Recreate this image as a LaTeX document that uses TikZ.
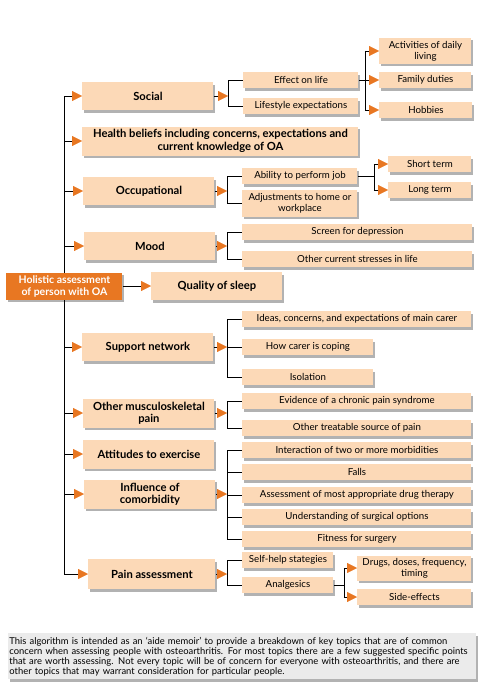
\documentclass[tikz,border=0pt]{standalone}
\usepackage{fontspec}
\setmainfont{Lato}
\usepackage{xcolor}
\usetikzlibrary{arrows.meta,shadows,backgrounds}

\begin{document}
\begin{tikzpicture}[x=1pt,y=-1pt,
  shade/.style={drop shadow={shadow xshift=2pt,shadow yshift=-2.5pt,opacity=.3,fill=black}},
  rootbox/.style={shade,fill=oaorange,text=white,font=\fontsize{10.5}{12}\selectfont\bfseries,align=center,anchor=west,minimum width=116,minimum height=27,inner sep=1pt},
  topic/.style={shade,fill=peach,font=\fontsize{11.2}{12.4}\selectfont\bfseries,align=center,anchor=west,minimum width=131,minimum height=28,inner sep=1pt},
  point/.style={shade,fill=peach,font=\fontsize{9.7}{11}\selectfont,align=center,anchor=west,minimum height=16,inner sep=1pt},
  arr/.style={-{Triangle[length=10pt,width=10pt,color=oaorange]}},
  line width=0.9pt]
\definecolor{oaorange}{HTML}{E87722}
\definecolor{peach}{HTML}{FCD9B7}
\definecolor{notegray}{HTML}{EBEBEB}
\useasboundingbox (0,0) rectangle (480,685);

\node[rootbox] (root) at (6,286) {Holistic assessment\\of person with OA};
\node[topic] (social) at (82,96) {Social};
\node[topic,minimum width=276,minimum height=29] (beliefs) at (82,141) {Health beliefs including concerns, expectations and\\current knowledge of OA};
\node[topic] (occup) at (83,191) {Occupational};
\node[topic] (mood) at (84,246) {Mood};
\node[topic] (sleep) at (151,286) {Quality of sleep};
\node[topic] (support) at (82,347) {Support network};
\node[topic,minimum height=29] (msk) at (83,413) {Other musculoskeletal\\pain};
\node[topic,minimum height=29] (exercise) at (83,454) {Attitudes to exercise};
\node[topic,minimum height=29] (comorb) at (84,494) {Influence of\\comorbidity};
\node[topic,minimum width=127,minimum height=30] (pain) at (88,574) {Pain assessment};

\foreach \nm/\x/\y/\w/\txt in {
  effect/243/80/115/{Effect on life}, lifestyle/243/106/115/{Lifestyle expectations},
  family/379/80/92/{Family duties}, hobbies/379/110/93/{Hobbies},
  ability/242/176/115/{Ability to perform job},
  shortt/388/164/83/{Short term}, longt/388/190/83/{Long term},
  screen/242/232/230/{Screen for depression}, stress/242/259/230/{Other current stresses in life},
  ideas/242/319/229/{Ideas, concerns, and expectations of main carer},
  coping/242/347/131/{How carer is coping}, isolation/242/377/131/{Isolation},
  chronic/242/401/229/{Evidence of a chronic pain syndrome},
  treatable/242/428/229/{Other treatable source of pain},
  interact/242/450/229/{Interaction of two or more morbidities},
  falls/242/472/229/{Falls},
  drugs/242/495/229/{Assessment of most appropriate drug therapy},
  surgopt/242/517/229/{Understanding of surgical options},
  fitness/242/539/229/{Fitness for surgery},
  selfhelp/242/560/91/{Self-help stategies}, analg/242/585/91/{Analgesics},
  side/357/597/114/{Side-effects}}
  {\node[point,minimum width=\w] (\nm) at (\x,\y) {\txt};}
\node[point,minimum width=92,minimum height=26] (adl) at (379,51) {Activities of daily\\living};
\node[point,minimum width=115,minimum height=27] (adjust) at (242,203) {Adjustments to home or\\workplace};
\node[point,minimum width=114,minimum height=25] (dose) at (357,568) {Drugs, doses, frequency,\\timing};

\node[shade,fill=notegray,anchor=north west,minimum height=46,inner xsep=1pt,inner ysep=3pt,
  text width=466,align=left,font=\fontsize{9.4}{9.9}\selectfont] (note) at (8,633)
  {This algorithm is intended as an `aide memoir' to provide a breakdown of key topics that are of common\\
   concern when assessing people with osteoarthritis. For most topics there are a few suggested specific points\\
   that are worth assessing. Not every topic will be of concern for everyone with osteoarthritis, and there are\\
   other topics that may warrant consideration for particular people.};

\begin{scope}[on background layer]
% main trunk
\draw (root.center |- social.west) -- (root.center |- pain.west);
\foreach \t in {social,beliefs,occup,mood,support,msk,exercise,comorb,pain}
  \draw[arr] (root.center |- \t.west) -- (\t.west);
\draw[arr] (root) -- (sleep);
% topics to points
\foreach \t/\first/\last in {social/effect/lifestyle,occup/ability/adjust,mood/screen/stress,
    support/ideas/isolation,msk/chronic/treatable,comorb/interact/fitness,pain/selfhelp/analg}
{ \draw (\first.west) -- ++(-15,0) |- (\last.west);
  \draw[arr] (\t.east) -- ([xshift=-15pt]\first.west |- \t.east); }
\foreach \m in {coping,falls,drugs,surgopt}
  \draw (\m.west) -- ++(-15,0);
% third level
\draw (effect.east) -- ++(6,0) coordinate (forkA);
\draw (forkA |- adl.west) -- (forkA |- hobbies.west);
\foreach \k in {adl,family,hobbies} \draw[arr] (forkA |- \k.west) -- (\k.west);
\draw (ability.east) -- ++(16,0) coordinate (forkB);
\draw (forkB |- shortt.west) -- (forkB |- longt.west);
\foreach \k in {shortt,longt} \draw[arr] (forkB |- \k.west) -- (\k.west);
\draw (analg.east) -- ++(10,0) coordinate (forkC);
\draw (forkC |- dose.west) -- (forkC |- side.west);
\foreach \k in {dose,side} \draw[arr] (forkC |- \k.west) -- (\k.west);
\end{scope}
\end{tikzpicture}
\end{document}
